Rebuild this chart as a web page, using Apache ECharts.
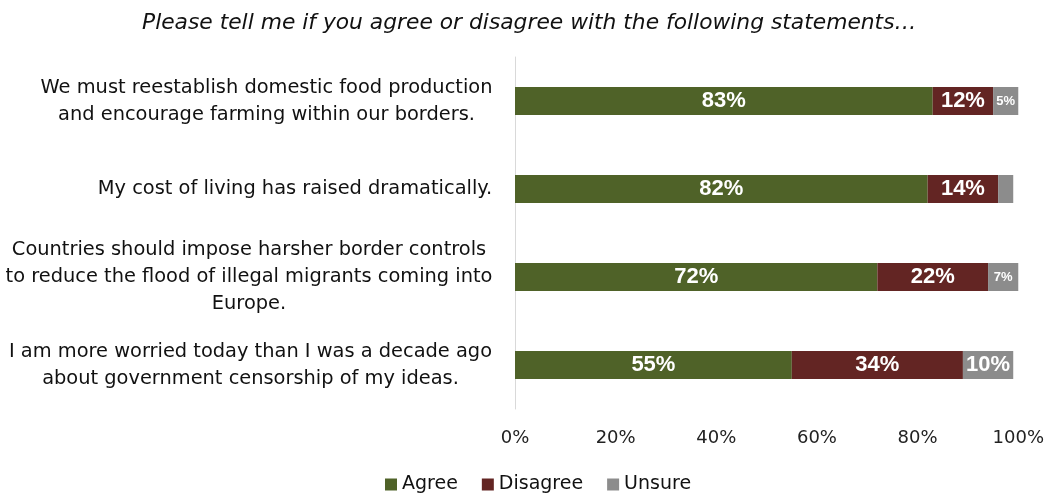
<!DOCTYPE html>
<html>
<head>
<meta charset="utf-8">
<script src="https://cdn.jsdelivr.net/npm/echarts@6/dist/echarts.min.js"></script>
<style>
html,body{margin:0;padding:0;background:#fff;}
#chart{width:1047px;height:493px;}
</style>
</head>
<body>
<div id="chart"></div>
<script>
var categories = [
  "We must reestablish domestic food production\nand encourage farming within our borders.",
  "My cost of living has raised dramatically.",
  "Countries should impose harsher border controls\nto reduce the flood of illegal migrants coming into\nEurope.",
  "I am more worried today than I was a decade ago\nabout government censorship of my ideas."
];
var agree = [83, 82, 72, 55];
var disagree = [12, 14, 22, 34];
var unsure = [5, 3, 7, 10];
var xTicks = [0, 20, 40, 60, 80, 100];

var FONT = "'DejaVu Sans', sans-serif";
var BARFONT = "'Liberation Sans', Arial, sans-serif";
var LABEL_SIZE = 19.4;

// measure each category's widest line so multi-line labels are centred within their own block
var ctx = document.createElement('canvas').getContext('2d');
ctx.font = LABEL_SIZE + "px 'DejaVu Sans'";
var rich = {};
categories.forEach(function (c, i) {
  var w = 0;
  c.split('\n').forEach(function (l) { w = Math.max(w, ctx.measureText(l).width); });
  rich['a' + i] = {width: Math.ceil(w) + 1, align: 'center', fontFamily: FONT, fontSize: LABEL_SIZE, lineHeight: 27, color: '#111'};
});

var chart = echarts.init(document.getElementById('chart'), null, {renderer: 'canvas'});

function bigLabel() {
  return {show: true, position: 'inside', color: '#fff', fontWeight: 'bold', fontSize: 22, fontFamily: BARFONT,
    formatter: function (p) { return p.value + '%'; }};
}
var unsureData = unsure.map(function (v) {
  var lab;
  if (v < 4) lab = {show: false};
  else if (v < 9) lab = {show: true, fontSize: 13};
  else lab = {show: true, fontSize: 22};
  return {value: v, label: lab};
});

chart.setOption({
  animation: false,
  title: {
    text: 'Please tell me if you agree or disagree with the following statements…',
    left: 137, top: 7,
    textStyle: {fontFamily: FONT, fontStyle: 'italic', fontWeight: 'normal', fontSize: 21.8, color: '#111'}
  },
  legend: {
    top: 470, left: 380,
    itemWidth: 12, itemHeight: 12, itemGap: 24,
    icon: 'rect',
    textStyle: {fontFamily: FONT, fontSize: 19, color: '#111'},
    data: ['Agree', 'Disagree', 'Unsure']
  },
  grid: {left: 515, right: 27, top: 57, height: 352, containLabel: false},
  xAxis: {
    type: 'value', min: 0, max: 100, interval: 20,
    axisLine: {show: false}, axisTick: {show: false}, splitLine: {show: false},
    axisLabel: {margin: 20, fontFamily: FONT, fontSize: 18, color: '#222',
      formatter: function (v) { return xTicks.indexOf(v) >= 0 ? v + '%' : ''; }}
  },
  yAxis: {
    type: 'category', inverse: true, data: categories,
    axisLine: {show: true, lineStyle: {color: '#d9d9d9', width: 1}},
    axisTick: {show: false},
    axisLabel: {
      margin: 22,
      formatter: function (v, i) { return '{a' + i + '|' + v + '}'; },
      rich: rich
    }
  },
  series: [
    {name: 'Agree', type: 'bar', stack: 'all', barWidth: 28, data: agree,
      itemStyle: {color: '#4f6228'}, label: bigLabel()},
    {name: 'Disagree', type: 'bar', stack: 'all', barWidth: 28, data: disagree,
      itemStyle: {color: '#632523'}, label: bigLabel()},
    {name: 'Unsure', type: 'bar', stack: 'all', barWidth: 28, data: unsureData,
      itemStyle: {color: '#8c8c8c'}, label: bigLabel()}
  ]
});
</script>
</body>
</html>
